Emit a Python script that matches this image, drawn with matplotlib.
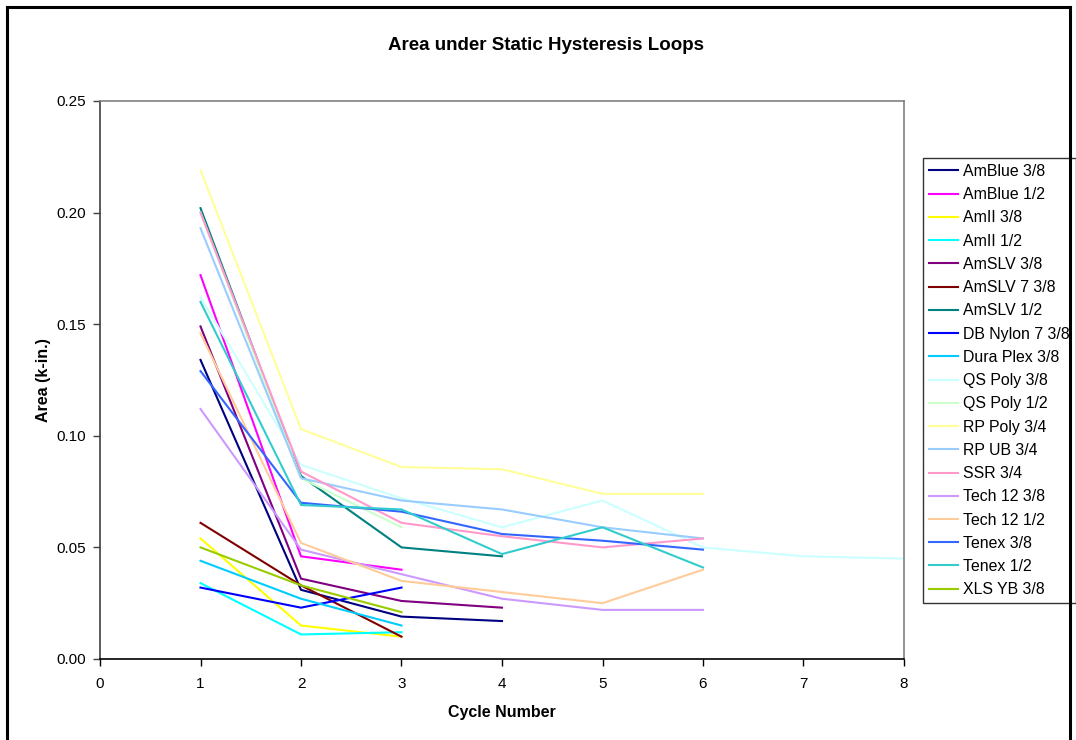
import matplotlib
matplotlib.use("Agg")
import matplotlib.pyplot as plt
from matplotlib.lines import Line2D

plt.rcParams['font.family'] = ['Liberation Sans', 'DejaVu Sans']

# Area under static hysteresis loops per cycle (k-in.)
names = ["AmBlue 3/8", "AmBlue 1/2", "AmII 3/8", "AmII 1/2", "AmSLV 3/8",
         "AmSLV 7 3/8", "AmSLV 1/2", "DB Nylon 7 3/8", "Dura Plex 3/8",
         "QS Poly 3/8", "QS Poly 1/2", "RP Poly 3/4", "RP UB 3/4", "SSR 3/4",
         "Tech 12 3/8", "Tech 12 1/2", "Tenex 3/8", "Tenex 1/2", "XLS YB 3/8"]

amblue_38 = [0.134, 0.031, 0.019, 0.017]
amblue_12 = [0.172, 0.046, 0.040]
amii_38 = [0.054, 0.015, 0.010]
amii_12 = [0.034, 0.011, 0.012]
amslv_38 = [0.149, 0.036, 0.026, 0.023]
amslv7_38 = [0.061, 0.033, 0.010]
amslv_12 = [0.202, 0.082, 0.050, 0.046]
dbnylon7_38 = [0.032, 0.023, 0.032]
duraplex_38 = [0.044, 0.027, 0.015]
qspoly_38 = [0.162, 0.087, 0.072, 0.059, 0.071, 0.050, 0.046, 0.045]
qspoly_12 = [0.200, 0.081, 0.059]
rppoly_34 = [0.219, 0.103, 0.086, 0.085, 0.074, 0.074]
rpub_34 = [0.193, 0.081, 0.071, 0.067, 0.059, 0.054]
ssr_34 = [0.200, 0.084, 0.061, 0.055, 0.050, 0.054]
tech12_38 = [0.112, 0.049, 0.038, 0.027, 0.022, 0.022]
tech12_12 = [0.146, 0.052, 0.035, 0.030, 0.025, 0.040]
tenex_38 = [0.129, 0.070, 0.066, 0.056, 0.053, 0.049]
tenex_12 = [0.160, 0.069, 0.067, 0.047, 0.059, 0.041]
xlsyb_38 = [0.050, 0.033, 0.021]

series = [amblue_38, amblue_12, amii_38, amii_12, amslv_38, amslv7_38,
          amslv_12, dbnylon7_38, duraplex_38, qspoly_38, qspoly_12,
          rppoly_34, rpub_34, ssr_34, tech12_38, tech12_12, tenex_38,
          tenex_12, xlsyb_38]

colors = ["#000080", "#FF00FF", "#FFFF00", "#00FFFF", "#800080", "#800000",
          "#008080", "#0000FF", "#00CCFF", "#CCFFFF", "#CCFFCC", "#FFFF99",
          "#99CCFF", "#FF99CC", "#CC99FF", "#FFCC99", "#3366FF", "#33CCCC",
          "#99CC00"]

W, H = 1076, 740
fig = plt.figure(figsize=(W / 100, H / 100), dpi=100)

# outer chart frame
fig.add_artist(Line2D([7 / W, 7 / W], [0, 1 - 7 / H], transform=fig.transFigure,
                      color="black", lw=2.2))
fig.add_artist(Line2D([7 / W, 1070 / W], [1 - 7 / H, 1 - 7 / H],
                      transform=fig.transFigure, color="black", lw=2.2))
fig.add_artist(Line2D([1070 / W, 1070 / W], [0, 1 - 7 / H],
                      transform=fig.transFigure, color="black", lw=2.2))

ax = fig.add_axes([100 / W, 1 - 659 / H, 804 / W, 558 / H])

for vals, name, c in zip(series, names, colors):
    cycles = list(range(1, len(vals) + 1))
    ax.plot(cycles, vals, color=c, lw=1.5, label=name,
            solid_joinstyle="miter")

ax.set_xlim(0, 8)
ax.set_ylim(0, 0.25)
ax.set_xticks(range(0, 9))
ax.set_yticks([0, 0.05, 0.10, 0.15, 0.20, 0.25])
ax.set_yticklabels(["0.00", "0.05", "0.10", "0.15", "0.20", "0.25"])
ax.tick_params(direction="out", length=5, width=1, labelsize=11,
               colors="black")
ax.tick_params(axis="x", pad=8)
ax.tick_params(axis="y", pad=5, color="#404040")

for side in ("top", "right"):
    ax.spines[side].set_color("#808080")
    ax.spines[side].set_linewidth(1.2)
ax.spines["left"].set_color("#404040")
ax.spines["left"].set_linewidth(1.2)
ax.spines["bottom"].set_color("black")
ax.spines["bottom"].set_linewidth(1.2)

ax.set_xlabel("Cycle Number", fontsize=11.5, fontweight="bold", labelpad=10)
ax.set_ylabel("Area (k-in.)", fontsize=11.5, fontweight="bold", labelpad=4)

fig.text(546 / W, 1 - 46 / H, "Area under Static Hysteresis Loops",
         ha="center", va="center", fontsize=13.5, fontweight="bold")

leg = ax.legend(loc="upper left", bbox_to_anchor=(923 / W, 1 - 158 / H),
                bbox_transform=fig.transFigure, borderaxespad=0,
                fontsize=11.4, frameon=True, fancybox=False, edgecolor="black",
                labelspacing=0.52, handlelength=1.85, handletextpad=0.3,
                borderpad=0.38)
leg.get_frame().set_linewidth(1.0)

fig.savefig("out.png", dpi=100, facecolor="white")
